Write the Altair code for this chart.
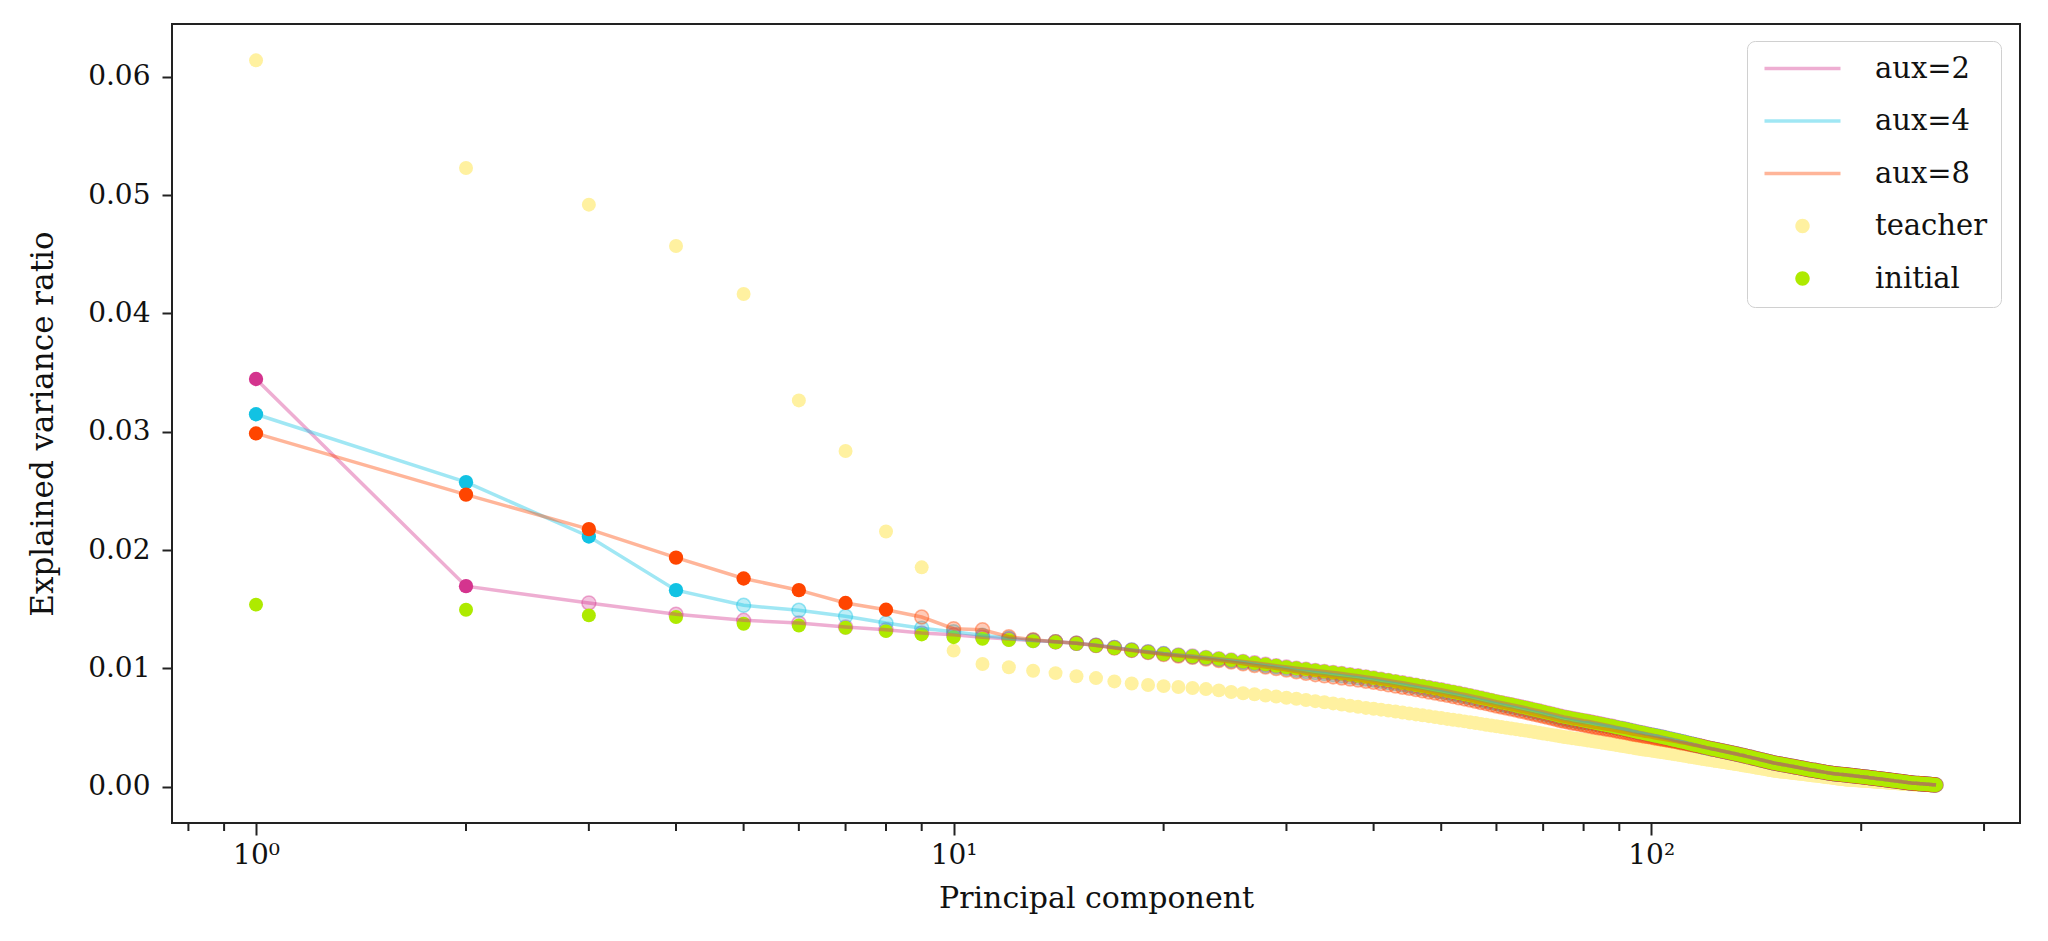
import altair as alt
import pandas as pd

# principal component index
pc = list(range(1, 257))

# explained variance ratio, in units of 1e-5
initial = [
1539,1496,1448,1434,1377,1363,1343,1315,1287,1264,
1250,1240,1230,1220,1209,1192,1172,1153,1137,1122,
1112,1102,1092,1081,1070,1058,1046,1034,1022,1010,
1001,992,983,974,965,956,947,938,929,919,
909,899,889,879,869,859,849,839,829,820,
810,800,790,780,770,760,750,740,730,720,
711,702,694,685,676,668,659,650,642,633,
624,616,607,598,590,584,577,571,565,559,
553,547,540,534,528,522,516,510,503,497,
491,485,479,472,466,460,455,449,444,439,
433,428,422,417,411,406,401,395,390,384,
379,374,368,363,357,352,347,341,336,330,
326,321,317,313,308,304,300,295,291,287,
282,278,274,269,265,261,256,252,248,243,
239,235,230,226,222,217,213,209,204,200,
197,194,191,188,185,182,179,176,173,170,
167,164,161,158,155,152,149,146,143,140,
138,136,133,131,128,126,123,121,118,116,
114,112,110,108,107,105,104,103,101,100,
98,97,95,94,92,91,89,88,86,85,
83,82,80,79,77,76,74,73,71,70,
68,67,65,64,62,61,59,58,56,55,
53,52,50,49,47,46,44,43,41,40,
38,37,35,34,33,31,30,29,28,28,
27,26,25,24,24,23,22,21,20,20,
19,18,17,16,16,15]

teacher = [
6140,5230,4920,4570,4165,3265,2838,2157,1854,1150,
1037,1010,980,960,933,918,890,872,860,850,
843,834,825,814,800,790,781,771,762,752,
743,733,723,714,704,694,684,675,666,659,
651,643,635,627,619,611,603,596,588,580,
573,566,559,552,545,538,531,524,517,510,
504,498,492,486,480,474,468,462,456,450,
444,438,432,426,420,415,410,406,401,396,
391,387,382,377,372,368,363,358,353,349,
344,339,334,330,325,320,316,312,309,305,
301,297,294,290,286,282,279,275,271,267,
264,260,256,252,249,245,241,237,234,230,
227,224,220,217,214,211,208,205,201,198,
195,192,189,186,182,179,176,173,170,167,
163,160,157,154,151,148,144,141,138,135,
133,131,129,127,125,124,122,120,118,116,
114,112,110,109,107,105,103,101,99,97,
95,94,92,90,88,86,84,82,80,79,
77,75,73,71,69,67,65,64,62,60,
59,58,57,56,56,55,54,53,52,51,
50,49,48,48,47,46,45,44,43,42,
41,40,40,39,38,37,36,35,34,33,
32,32,31,30,29,28,27,26,25,24,
24,23,22,21,21,20,20,19,19,18,
18,17,17,16,16,15,15,14,14,13,
13,12,12,11,11,10]

aux2 = [
3446,1695,1553,1457,1406,1383,1350,1326,1300,1284,
1264,1248,1236,1225,1213,1196,1176,1156,1140,1125,
1114,1104,1093,1082,1071,1059,1047,1035,1023,1011,
1001,992,983,974,965,956,947,938,928,918,
908,898,888,878,868,858,848,838,828,819,
809,799,789,779,769,759,749,739,729,719,
710,701,693,684,675,667,658,649,641,632,
623,615,606,597,589,583,576,570,564,558,
553,547,540,534,528,522,516,510,503,497,
491,485,479,472,466,460,455,449,444,439,
433,428,422,417,411,406,401,395,390,384,
379,374,368,363,357,352,347,341,336,330,
326,321,317,313,308,304,300,295,291,287,
282,278,274,269,265,261,256,252,248,243,
239,235,230,226,222,217,213,209,204,200,
197,194,191,188,185,182,179,176,173,170,
167,164,161,158,155,152,149,146,143,140,
138,136,133,131,128,126,123,121,118,116,
114,112,110,108,107,105,104,103,101,100,
98,97,95,94,92,91,89,88,86,85,
83,82,80,79,77,76,74,73,71,70,
68,67,65,64,62,61,59,58,56,55,
53,52,50,49,47,46,44,43,41,40,
38,37,35,34,33,31,30,29,28,28,
27,26,25,24,24,23,22,21,20,20,
19,18,17,16,16,15]

aux4 = [
3148,2574,2115,1661,1533,1491,1440,1383,1340,1310,
1280,1255,1238,1226,1213,1196,1176,1156,1139,1123,
1110,1098,1086,1074,1062,1049,1036,1023,1011,999,
983,974,965,956,947,938,929,920,911,901,
891,881,871,861,851,841,831,821,811,802,
792,782,772,762,752,742,732,722,712,702,
693,684,676,667,658,650,641,632,624,615,
606,598,589,580,572,566,559,553,547,541,
540,535,529,524,519,513,508,503,497,492,
487,481,475,468,462,456,451,445,440,435,
431,426,420,415,409,404,399,393,388,382,
377,372,366,361,355,350,345,339,334,328,
326,321,317,313,308,304,300,295,291,287,
282,278,274,269,265,261,256,252,248,243,
239,235,230,226,222,217,213,209,204,200,
197,194,191,188,185,182,179,176,173,170,
167,164,161,158,155,152,149,146,143,140,
138,136,133,131,128,126,123,121,118,116,
114,112,110,108,107,105,104,103,101,100,
98,97,95,94,92,91,89,88,86,85,
83,82,80,79,77,76,74,73,71,70,
68,67,65,64,62,61,59,58,56,55,
53,52,50,49,47,46,44,43,41,40,
38,37,35,34,33,31,30,29,28,28,
27,26,25,24,24,23,22,21,20,20,
19,18,17,16,16,15]

aux8 = [
2986,2469,2177,1936,1760,1661,1553,1496,1434,1335,
1326,1268,1243,1225,1212,1194,1172,1152,1135,1118,
1105,1093,1080,1066,1053,1039,1025,1012,999,986,
971,959,947,937,928,919,910,901,892,882,
871,861,851,841,831,821,811,801,791,782,
772,762,752,742,732,722,712,702,692,682,
673,664,656,647,638,630,621,612,604,595,
586,578,569,560,552,546,539,533,527,521,
515,509,503,498,493,488,483,478,472,467,
462,457,452,446,441,436,432,427,423,419,
414,410,405,401,396,392,388,383,379,374,
370,366,361,357,352,348,344,339,335,330,
326,321,317,313,308,304,300,295,291,287,
282,278,274,269,265,261,256,252,248,243,
239,235,230,226,222,217,213,209,204,200,
197,194,191,188,185,182,179,176,173,170,
167,164,161,158,155,152,149,146,143,140,
138,136,133,131,128,126,123,121,118,116,
114,112,110,108,107,105,104,103,101,100,
98,97,95,94,92,91,89,88,86,85,
83,82,80,79,77,76,74,73,71,70,
68,67,65,64,62,61,59,58,56,55,
53,52,50,49,47,46,44,43,41,40,
38,37,35,34,33,31,30,29,28,28,
27,26,25,24,24,23,22,21,20,20,
19,18,17,16,16,15]

series_names = ["aux=2", "aux=4", "aux=8", "teacher", "initial"]
highlighted = [2, 4, 8, 0, 0]          # leading components drawn at full strength
point_colors = ["#d4348e", "#12c2e3", "#ff4500", "#fff1a0", "#aeea00"]
legend_fills = ["#eeaed2", "#a0e7f4", "#ffb599", "#fff1a0", "#aeea00"]

x_major = [1, 10, 100]
x_minor = [0.8, 0.9, 2, 3, 4, 5, 6, 7, 8, 9, 20, 30, 40, 50, 60, 70, 80, 90, 200, 300]
y_ticks = [0.0, 0.01, 0.02, 0.03, 0.04, 0.05, 0.06]

rows = []
for name, vals, k in zip(series_names, [aux2, aux4, aux8, teacher, initial], highlighted):
    for x, v in zip(pc, vals):
        rows.append({"pc": x, "ratio": v / 1e5, "series": name, "k": k})
df = pd.DataFrame(rows)

FONT = "DejaVu Serif"
INK = "#111111"
X_TITLE = "Principal component"
Y_TITLE = "Explained variance ratio"

xs = alt.Scale(type="log", domain=[0.7578, 337.8], nice=False)
ys = alt.Scale(domain=[-0.00307, 0.06447], nice=False, zero=False)
# mark colour scale (domain listed in a different order from the legend scale,
# so that Vega-Lite keeps the two apart)
mark_order = series_names[::-1]
cs = alt.Scale(domain=mark_order, range=point_colors[::-1])

x_axis = alt.Axis(
    values=x_major,
    labelExpr="datum.value == 1 ? '10⁰' : datum.value == 10 ? '10¹' : '10²'",
    tickSize=12, tickWidth=2, tickColor="#222222", domain=False, grid=False,
    labelFont=FONT, labelFontSize=28, labelColor=INK, labelPadding=6,
    titleFont=FONT, titleFontSize=30, titleFontWeight="normal", titleColor=INK,
    titlePadding=14,
)
y_axis = alt.Axis(
    values=y_ticks, format=".2f",
    tickSize=10, tickWidth=2, tickColor="#222222", domain=False, grid=False,
    labelFont=FONT, labelFontSize=28, labelColor=INK, labelPadding=12,
    titleFont=FONT, titleFontSize=31, titleFontWeight="normal", titleColor=INK,
    titlePadding=28,
)

base = alt.Chart(df).encode(
    x=alt.X("pc:Q", scale=xs, axis=x_axis, title=X_TITLE),
    y=alt.Y("ratio:Q", scale=ys, axis=y_axis, title=Y_TITLE),
)
col = alt.Color("series:N", scale=cs, legend=None)

def pick(name):
    return base.transform_filter(f"datum.series == '{name}'")

layers = []
layers.append(pick("teacher").mark_circle(size=195, opacity=1).encode(color=col))
for name in series_names[:3]:
    layers.append(base.transform_filter(f"datum.series == '{name}' && datum.pc > datum.k")
                  .mark_point(filled=True, size=195, fillOpacity=0.28,
                              strokeOpacity=0.4, strokeWidth=1.5)
                  .encode(color=col, stroke=alt.Stroke("series:N", scale=cs, legend=None)))
layers.append(pick("initial").mark_circle(size=195, opacity=1).encode(color=col))
for name in series_names[:3]:
    layers.append(pick(name).mark_line(strokeWidth=3.5, opacity=0.4).encode(color=col))
for name in series_names[:3]:
    layers.append(base.transform_filter(f"datum.series == '{name}' && datum.pc <= datum.k")
                  .mark_circle(size=205, opacity=1).encode(color=col))

# minor ticks of the log axis
minor = alt.Chart(pd.DataFrame({"t": x_minor})).mark_rule(
    color="#222222", strokeWidth=2
).encode(
    x=alt.X("t:Q", scale=xs, axis=x_axis, title=X_TITLE),
    y=alt.value(799), y2=alt.value(807),
)
layers.append(minor)

# legend (invisible carrier marks; the legend is drawn from the scales)
line_sym = "M-1,-0.17H6.6V0.17H-1Z"
dot_sym = "M3.52,0A0.72,0.72,0,1,1,2.08,0A0.72,0.72,0,1,1,3.52,0Z"
leg = alt.Legend(
    title=None, orient="none", legendX=1575, legendY=17, direction="vertical",
    symbolSize=400, symbolStrokeWidth=0, symbolOpacity=1, labelOffset=86, rowPadding=22.5,
    padding=13, strokeColor="#d0d0d0", fillColor="white", cornerRadius=8,
    labelFont=FONT, labelFontSize=29, labelColor=INK,
)
legend_layer = alt.Chart(pd.DataFrame({"series": series_names})).mark_point(
    filled=True, opacity=0
).encode(
    fill=alt.Fill("series:N", scale=alt.Scale(domain=series_names, range=legend_fills), legend=leg),
    shape=alt.Shape("series:N", scale=alt.Scale(domain=series_names,
                    range=[line_sym, line_sym, line_sym, dot_sym, dot_sym]), legend=leg),
)
layers.append(legend_layer)

chart = alt.layer(*layers).properties(
    width=1848, height=799,
    autosize=alt.AutoSizeParams(type="none"),
    padding={"left": 164, "top": 16, "right": 12, "bottom": 100},
).configure(font=FONT).configure_view(stroke="#222222", strokeWidth=2)

chart.save("out.html", embed_options={"renderer": "svg", "actions": False})
